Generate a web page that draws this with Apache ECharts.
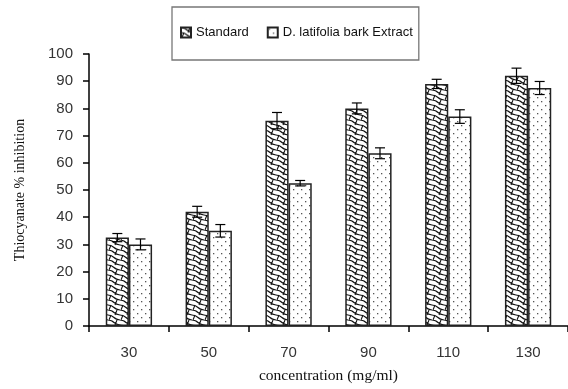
<!DOCTYPE html>
<html><head><meta charset="utf-8">
<script src="https://cdn.jsdelivr.net/npm/echarts@6/dist/echarts.min.js"></script>
<style>html,body{margin:0;padding:0;background:#fff;overflow:hidden}#c{width:568px;height:389px}</style>
</head><body><div id="c"></div>
<script>
const categories = ['30', '50', '70', '90', '110', '130'];
const standard = [32.5, 42, 75.5, 80, 89, 92];
const standardErr = [1.5, 2, 3, 2, 1.7, 2.8];
const extract = [30, 35, 52.5, 63.5, 77, 87.5];
const extractErr = [2, 2.3, 1, 2, 2.5, 2.4];
const yTicks = [0, 10, 20, 30, 40, 50, 60, 70, 80, 90, 100];

function weave() {
  const c = document.createElement('canvas'); c.width = 12; c.height = 10;
  const g = c.getContext('2d');
  g.fillStyle = '#fff'; g.fillRect(0, 0, 12, 10);
  g.strokeStyle = '#111'; g.lineWidth = 1.1;
  g.beginPath();
  for (const dy of [-5, 0, 5]) {
    g.moveTo(-1, dy); g.bezierCurveTo(8, dy, 4, dy + 5, 13, dy + 5);
  }
  g.moveTo(3, 5); g.lineTo(1, 10);
  g.moveTo(9, 0); g.lineTo(7, 5);
  g.stroke();
  return c;
}
function dots() {
  const c = document.createElement('canvas'); c.width = 8; c.height = 8;
  const g = c.getContext('2d');
  g.fillStyle = '#fff'; g.fillRect(0, 0, 8, 8);
  g.fillStyle = '#555';
  g.fillRect(1, 1, 1.3, 1.3); g.fillRect(5, 5, 1.3, 1.3);
  return c;
}
const BW = 0.29; // bar width fraction of band
const chart = echarts.init(document.getElementById('c'), null, {renderer: 'canvas'});
function errSeries(vals, errs, offset) {
  return {
    type: 'custom', z: 5, silent: true,
    data: vals.map((v, i) => [i, v, errs[i]]),
    renderItem: function (params, api) {
      const i = api.value(0), v = api.value(1), e = api.value(2);
      const band = api.size([1, 0])[0];
      const c = api.coord([i, v]);
      const x = c[0] + offset * band * BW;
      const top = api.coord([i, v + e])[1], bot = api.coord([i, v - e])[1];
      const hw = 5;
      const st = {stroke: '#000', lineWidth: 1.2};
      return {type: 'group', children: [
        {type: 'line', shape: {x1: x, y1: top, x2: x, y2: bot}, style: st},
        {type: 'line', shape: {x1: x - hw, y1: top, x2: x + hw, y2: top}, style: st},
        {type: 'line', shape: {x1: x - hw, y1: bot, x2: x + hw, y2: bot}, style: st}
      ]};
    }
  };
}
chart.setOption({
  animation: false,
  backgroundColor: '#fff',
  legend: {
    top: 7, left: 172,
    data: [{name: 'Standard', icon: 'rect'}, {name: 'D. latifolia bark Extract', icon: 'rect'}],
    borderColor: '#777', borderWidth: 1.3,
    padding: [19, 6, 21, 8],
    itemWidth: 10, itemHeight: 10, itemGap: 18,
    textStyle: {fontFamily: 'Liberation Sans, Arial', fontSize: 13, color: '#111'}
  },
  grid: {left: 89, right: -10, top: 54, bottom: 53},
  xAxis: {
    type: 'category', data: categories,
    axisLine: {lineStyle: {color: '#000', width: 1.5}},
    axisTick: {show: true, inside: false, length: 6, lineStyle: {color: '#000', width: 1.5}},
    axisLabel: {fontFamily: 'Liberation Sans, Arial', fontSize: 15, color: '#333', margin: 19},
    name: 'concentration (mg/ml)', nameLocation: 'middle', nameGap: 42,
    nameTextStyle: {fontFamily: 'Liberation Serif, Times New Roman', fontSize: 15.5, color: '#111'}
  },
  yAxis: {
    type: 'value', min: 0, max: 100, interval: 10,
    axisLine: {show: true, lineStyle: {color: '#000', width: 1.5}},
    axisTick: {show: true, length: 6, lineStyle: {color: '#000', width: 1.5}},
    splitLine: {show: false},
    axisLabel: {fontFamily: 'Liberation Sans, Arial', fontSize: 15, color: '#333', margin: 16,
      formatter: v => yTicks.includes(v) ? String(v) : ''},
    name: 'Thiocyanate % inhibition', nameLocation: 'middle', nameGap: 62, nameRotate: 90,
    nameTextStyle: {fontFamily: 'Liberation Serif, Times New Roman', fontSize: 14, color: '#111'}
  },
  series: [
    {name: 'Standard', type: 'bar', data: standard, barWidth: (BW * 100) + '%', barGap: '0%',
      itemStyle: {color: {image: weave(), repeat: 'repeat'}, borderColor: '#222', borderWidth: 1.5}},
    {name: 'D. latifolia bark Extract', type: 'bar', data: extract, barWidth: (BW * 100) + '%', barGap: '0%',
      itemStyle: {color: {image: dots(), repeat: 'repeat'}, borderColor: '#222', borderWidth: 1.5}},
    errSeries(standard, standardErr, -0.5),
    errSeries(extract, extractErr, 0.5)
  ]
});
</script></body></html>
